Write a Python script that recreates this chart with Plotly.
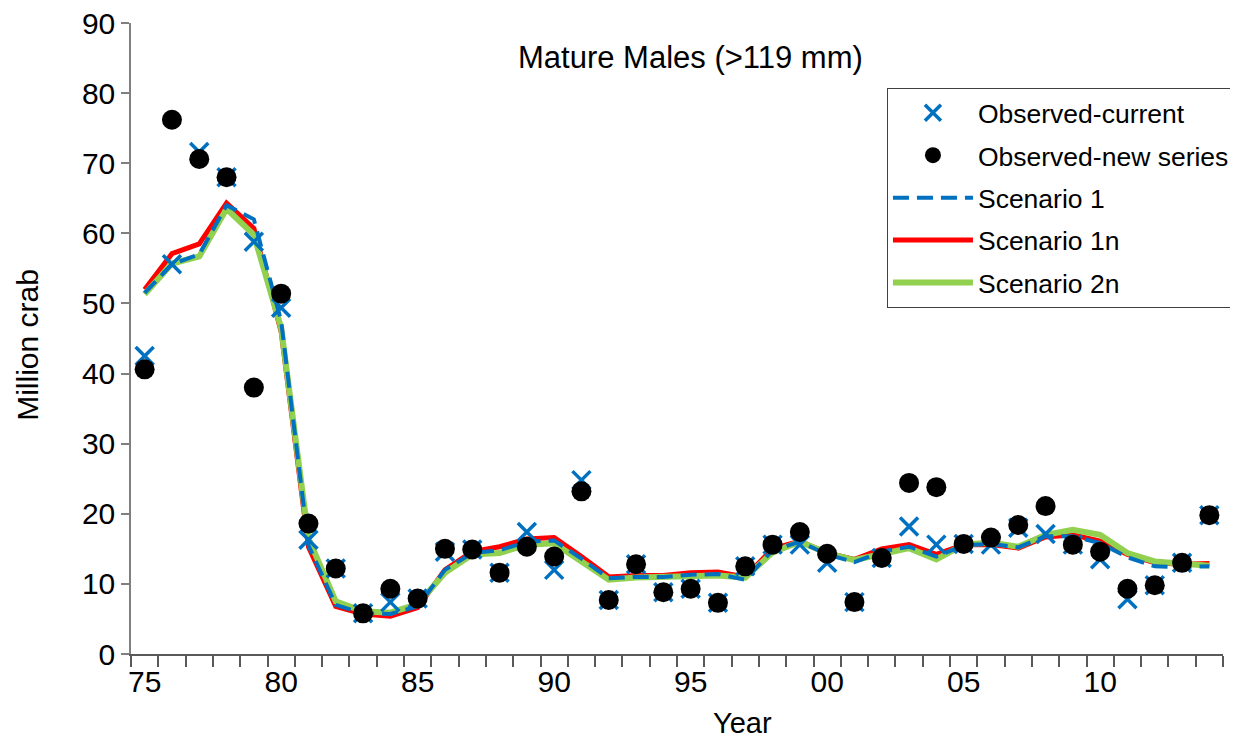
import plotly.graph_objects as go

# Survey years (1975-2014) and the two-digit labels shown every 5 years
years = list(range(1975, 2015))
label_years = [1975, 1980, 1985, 1990, 1995, 2000, 2005, 2010]
label_text = ["75", "80", "85", "90", "95", "00", "05", "10"]

# Observed abundance, million crab
obs_current = [42.5, 55.6, 71.6, 68.0, 58.8, 49.4, 16.3, 12.2, 5.8, 7.4,
               7.9, 14.6, 14.9, 11.6, 17.4, 12.0, 24.8, 7.7, 12.8, 8.8,
               9.3, 7.3, 12.5, 15.6, 15.6, 13.0, 7.4, 13.7, 18.2, 15.6,
               15.7, 15.6, 18.0, 17.1, 15.6, 13.5, 7.8, 9.8, 13.0, 19.8]
obs_new = [40.6, 76.2, 70.6, 68.0, 38.0, 51.4, 18.6, 12.2, 5.8, 9.3,
           7.9, 15.0, 14.9, 11.6, 15.3, 13.9, 23.2, 7.7, 12.8, 8.8,
           9.3, 7.3, 12.5, 15.6, 17.4, 14.3, 7.4, 13.7, 24.4, 23.8,
           15.7, 16.6, 18.4, 21.1, 15.6, 14.6, 9.3, 9.8, 13.0, 19.8]

# Model estimates
scenario_1 = [51.5, 55.6, 57.0, 64.0, 62.0, 47.5, 15.5, 7.0, 5.8, 5.7,
              6.8, 12.0, 14.4, 14.8, 16.0, 16.2, 13.6, 10.8, 11.0, 11.0,
              11.3, 11.4, 10.6, 14.8, 16.0, 14.2, 13.1, 14.6, 15.3, 13.9,
              15.5, 15.7, 15.2, 16.8, 16.8, 15.8, 13.8, 12.5, 12.4, 12.5]
scenario_1n = [52.0, 57.1, 58.5, 64.3, 60.7, 46.0, 15.3, 6.8, 5.7, 5.4,
               6.6, 12.0, 14.6, 15.3, 16.4, 16.6, 13.9, 11.0, 11.2, 11.2,
               11.6, 11.7, 11.0, 15.0, 16.1, 14.4, 13.5, 15.0, 15.6, 14.2,
               15.6, 15.6, 15.1, 16.7, 17.0, 16.1, 14.2, 13.0, 12.8, 12.9]
scenario_2n = [51.3, 55.7, 56.7, 63.5, 59.8, 46.5, 16.5, 7.5, 6.1, 5.9,
               7.1, 11.6, 14.2, 14.4, 15.6, 15.8, 13.2, 10.6, 10.9, 11.0,
               11.2, 11.2, 10.9, 14.5, 16.0, 14.4, 13.4, 14.2, 15.1, 13.5,
               15.6, 15.9, 15.3, 17.0, 17.7, 17.0, 14.4, 13.2, 12.8, 12.6]

BLUE = "#0070C0"
RED = "#FF0000"
GREEN = "#92D050"
FONT = "Liberation Sans, Arial, sans-serif"

fig = go.Figure()

# lines first (red, green, then blue dashed on top), markers last
fig.add_trace(go.Scatter(
    x=years, y=scenario_1n, mode="lines", name="Scenario 1n",
    line=dict(color=RED, width=5), legendrank=4, legendgroup="d",
))
fig.add_trace(go.Scatter(
    x=years, y=scenario_2n, mode="lines", name="Scenario 2n",
    line=dict(color=GREEN, width=6), legendrank=5, legendgroup="e",
))
fig.add_trace(go.Scatter(
    x=years, y=scenario_1, mode="lines", name="Scenario 1",
    line=dict(color=BLUE, width=4, dash="16px,8px"), legendrank=3, legendgroup="c",
))
fig.add_trace(go.Scatter(
    x=years, y=obs_current, mode="markers", name="Observed-current",
    marker=dict(symbol="x-thin", size=18, line=dict(color=BLUE, width=3.5)),
    legendrank=1, legendgroup="a",
))
fig.add_trace(go.Scatter(
    x=years, y=obs_new, mode="markers", name="Observed-new series",
    marker=dict(symbol="circle", size=20, color="black"),
    legendrank=2, legendgroup="b",
))

# page body adds ~8px offset, so the figure is sized to fit the window
fig.update_layout(
    width=1230,
    height=734,
    margin=dict(l=123, r=15, t=15, b=88, autoexpand=False),
    plot_bgcolor="white",
    paper_bgcolor="white",
    font=dict(family=FONT, size=30, color="black"),
    showlegend=True,
    legend=dict(
        xref="container", yref="container",
        x=0.7146, y=0.891, xanchor="left", yanchor="top",
        bgcolor="white", bordercolor="#404040", borderwidth=1,
        font=dict(size=26.5, color="black"),
        itemwidth=80,
        traceorder="grouped",
        tracegroupgap=5,
    ),
    xaxis=dict(
        range=[1974.5, 2014.5],
        automargin=False,
        tickmode="array",
        tickvals=label_years,
        ticktext=label_text,
        ticks="",
        ticklen=11,
        showgrid=False,
        zeroline=False,
        showline=True,
        linecolor="#595959",
        linewidth=2,
        tickfont=dict(size=30),
        minor=dict(
            tickmode="linear", tick0=1974.5, dtick=1,
            ticks="outside", ticklen=11, tickwidth=1.5, tickcolor="#595959",
            showgrid=False,
        ),
    ),
    yaxis=dict(
        range=[0, 90],
        automargin=False,
        tickvals=[0, 10, 20, 30, 40, 50, 60, 70, 80, 90],
        ticks="outside",
        ticklen=8,
        tickwidth=1.5,
        tickcolor="#7f7f7f",
        ticklabeloverflow="allow",
        showgrid=False,
        zeroline=False,
        showline=True,
        linecolor="#7f7f7f",
        linewidth=1.5,
        tickfont=dict(size=30),
    ),
    annotations=[
        dict(text="Mature Males (>119 mm)", xref="paper", yref="paper",
             x=0.512, y=0.945, xanchor="center", yanchor="middle",
             showarrow=False, font=dict(size=31)),
        dict(text="Million crab", xref="paper", yref="paper",
             x=0, y=0.49, xshift=-103, xanchor="center", yanchor="middle",
             textangle=-90, showarrow=False, font=dict(size=30)),
        dict(text="Year", xref="paper", yref="paper",
             x=0.56, y=0, yshift=-69, xanchor="center", yanchor="middle",
             showarrow=False, font=dict(size=29)),
    ],
)

fig.write_html("out.html")
